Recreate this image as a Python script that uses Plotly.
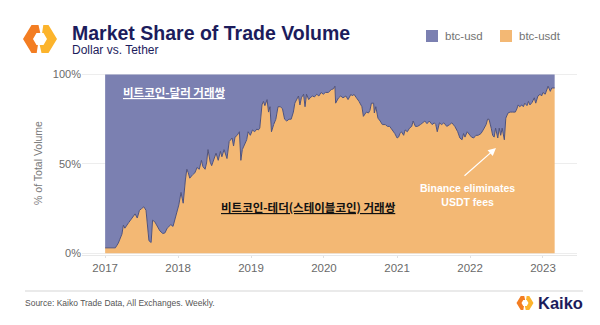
import plotly.graph_objects as go
import pandas as pd

# ---------------- data ----------------
period_decimal_year = [
    2017.00, 2017.14, 2017.18, 2017.23, 2017.25, 2017.27, 2017.32, 2017.35, 2017.38, 2017.41,
    2017.44, 2017.47, 2017.50, 2017.53, 2017.56, 2017.58, 2017.60, 2017.63, 2017.65, 2017.68,
    2017.71, 2017.75, 2017.79, 2017.82, 2017.85, 2017.88, 2017.90, 2017.93, 2017.96, 2017.99,
    2018.01, 2018.04, 2018.07, 2018.10, 2018.12, 2018.14, 2018.16, 2018.20, 2018.23, 2018.26,
    2018.29, 2018.32, 2018.34, 2018.37, 2018.39, 2018.41, 2018.44, 2018.46, 2018.49, 2018.52,
    2018.55, 2018.58, 2018.60, 2018.63, 2018.67, 2018.70, 2018.74, 2018.76, 2018.78, 2018.81,
    2018.84, 2018.86, 2018.88, 2018.91, 2018.94, 2018.96, 2018.99, 2019.02, 2019.05, 2019.08,
    2019.10, 2019.12, 2019.15, 2019.17, 2019.19, 2019.22, 2019.24, 2019.26, 2019.28, 2019.31,
    2019.34, 2019.37, 2019.40, 2019.43, 2019.46, 2019.49, 2019.52, 2019.55, 2019.58, 2019.60,
    2019.63, 2019.65, 2019.67, 2019.69, 2019.72, 2019.74, 2019.76, 2019.79, 2019.81, 2019.84,
    2019.87, 2019.90, 2019.93, 2019.96, 2019.99, 2020.02, 2020.06, 2020.10, 2020.13, 2020.15,
    2020.16, 2020.20, 2020.23, 2020.26, 2020.30, 2020.33, 2020.37, 2020.39, 2020.41, 2020.45,
    2020.48, 2020.52, 2020.54, 2020.58, 2020.61, 2020.63, 2020.65, 2020.68, 2020.69, 2020.71,
    2020.74, 2020.77, 2020.80, 2020.84, 2020.87, 2020.90, 2020.93, 2020.95, 2020.97, 2021.00,
    2021.02, 2021.04, 2021.06, 2021.09, 2021.11, 2021.14, 2021.17, 2021.20, 2021.22, 2021.25,
    2021.28, 2021.32, 2021.35, 2021.38, 2021.41, 2021.44, 2021.48, 2021.51, 2021.53, 2021.55,
    2021.58, 2021.61, 2021.64, 2021.68, 2021.72, 2021.75, 2021.79, 2021.83, 2021.86, 2021.89,
    2021.91, 2021.93, 2021.96, 2021.98, 2022.00, 2022.02, 2022.05, 2022.08, 2022.11, 2022.15,
    2022.18, 2022.22, 2022.24, 2022.26, 2022.29, 2022.31, 2022.33, 2022.35, 2022.38, 2022.40,
    2022.42, 2022.44, 2022.47, 2022.49, 2022.52, 2022.55, 2022.58, 2022.62, 2022.64, 2022.66,
    2022.68, 2022.71, 2022.73, 2022.75, 2022.78, 2022.80, 2022.82, 2022.85, 2022.88, 2022.90,
    2022.93, 2022.96, 2022.98, 2023.00, 2023.03, 2023.05, 2023.07, 2023.10, 2023.12, 2023.16,
]

btc_usdt_share = [
    3, 3, 5.6, 10.7, 15.7, 14, 17, 18.5, 20, 22,
    19.7, 24, 25, 26, 24, 15, 7, 6, 18.5, 17.6,
    15, 12.5, 11, 11.4, 14, 15, 16, 15, 20, 25,
    27, 34, 28, 41, 47, 45, 42, 44, 45, 48,
    47, 52, 48.5, 47, 50.5, 58, 51, 49, 53, 56,
    52, 57, 54, 58, 53, 62.5, 64.5, 60, 65, 66,
    68, 52, 58, 60.7, 63.5, 68, 66, 69, 68, 69.5,
    69, 70, 83, 85, 82.6, 86, 79, 82, 68, 72,
    75, 82, 82, 81, 75, 74, 75, 75, 79, 84,
    86, 88, 83, 87, 89, 82, 89, 86, 87, 88,
    87.5, 89, 88, 90, 89, 90, 90, 91.6, 92, 93.5,
    84, 87, 88, 87, 88, 86, 89, 88, 89, 87,
    85, 82, 76.6, 79, 78.5, 80, 84, 84, 78.5, 82,
    75.6, 74, 72, 72, 71, 71, 69.5, 68, 67, 64.5,
    65, 67, 68, 66, 69, 68, 70, 71, 74, 71,
    71, 72, 73, 74, 72.5, 74, 72, 73, 72, 68,
    73, 72, 73, 71, 72, 73, 71, 68, 64.5, 63.5,
    67, 65, 68, 67, 66, 65, 64.5, 66, 66, 67,
    69, 72, 75, 75, 70, 66, 65, 70, 64.5, 70,
    66, 70, 63.5, 75.6, 78.5, 79, 79, 79, 80.7, 83,
    82, 83, 82, 84, 82.6, 85, 83, 84.4, 87, 84,
    88, 89, 88, 90, 89, 91.6, 93.5, 90.6, 92.5, 92.5,
]

year_ticks = [2017, 2018, 2019, 2020, 2021, 2022, 2023]
year_tick_labels = ["2017", "2018", "2019", "2020", "2021", "2022", "2023"]
pct_ticks = [0, 50, 100]
pct_tick_labels = ["0%", "50%", "100%"]
series_names = ["btc-usd", "btc-usdt"]

# ---------------- styling ----------------
BLUE = "#7b80b1"
ORANGE = "#f3b874"
LINE = "#4f527c"
NAVY = "#1c1c5c"
GRAY = "#6a6a6a"
W, H = 600, 325
L, R, T, B = 82, 577, 71, 255  # plot area in pixels


def dec_to_date(y):
    yi = int(y)
    return pd.Timestamp(yi, 1, 1) + pd.Timedelta(days=(y - yi) * 365.25)


dates = [dec_to_date(v) for v in period_decimal_year]
btc_usd_share = [100 - v for v in btc_usdt_share]


def px(xp):
    return (xp - L) / (R - L)


def py(yp):
    return (B - yp) / (B - T)


fig = go.Figure()
fig.add_trace(go.Scatter(
    x=dates, y=btc_usdt_share, name=series_names[1], mode="lines",
    stackgroup="one", fillcolor=ORANGE, line=dict(color=LINE, width=1),
    showlegend=False, hoverinfo="skip"))
fig.add_trace(go.Scatter(
    x=dates, y=btc_usd_share, name=series_names[0], mode="lines",
    stackgroup="one", fillcolor=BLUE, line=dict(color=BLUE, width=0),
    showlegend=False, hoverinfo="skip"))

x_left = dec_to_date(2016.685)
x_right = dec_to_date(2023.466)

fig.update_layout(
    width=W, height=H,
    margin=dict(l=L, r=W - R, t=T, b=H - B),
    paper_bgcolor="white", plot_bgcolor="white",
    font=dict(family="Liberation Sans, Arial, sans-serif", color=GRAY),
    showlegend=False,
    xaxis=dict(
        type="date", range=[x_left, x_right],
        tickvals=[pd.Timestamp(y, 1, 1) for y in year_ticks],
        ticktext=year_tick_labels,
        showgrid=False, showline=True, linecolor="#e8e8e8", linewidth=1,
        ticks="outside", ticklen=2, tickcolor="#e0e0e0",
        tickfont=dict(size=11.5, color=GRAY), zeroline=False,
    ),
    yaxis=dict(
        range=[-1, 102], tickvals=pct_ticks, ticktext=pct_tick_labels,
        showgrid=True, gridcolor="#ededed", gridwidth=1, zeroline=False,
        showline=False, ticks="", tickfont=dict(size=11, color=GRAY),
        title=dict(text="% of Total Volume", font=dict(size=10.5, color="#777777"), standoff=8),
    ),
)

annotations = []
shapes = []

# title & subtitle
annotations.append(dict(xref="paper", yref="paper", x=px(70), y=py(33), xanchor="left", yanchor="middle",
                        text="<b>Market Share of Trade Volume</b>", showarrow=False,
                        font=dict(size=19.5, color=NAVY, family="Liberation Sans, Arial")))
annotations.append(dict(xref="paper", yref="paper", x=px(70), y=py(50), xanchor="left", yanchor="middle",
                        text="Dollar vs. Tether", showarrow=False,
                        font=dict(size=12, color=NAVY, family="Liberation Sans, Arial")))

# legend (manual)
for sx, col, name in [(426, BLUE, series_names[0]), (500, ORANGE, series_names[1])]:
    shapes.append(dict(type="rect", xref="paper", yref="paper",
                       x0=px(sx), x1=px(sx + 12), y0=py(42), y1=py(30),
                       fillcolor=col, line=dict(width=0)))
    annotations.append(dict(xref="paper", yref="paper", x=px(sx + 17), y=py(36), xanchor="left",
                            yanchor="middle", text=name, showarrow=False,
                            font=dict(size=11.5, color="#737373")))


# logos
def logo_paths(cx, cy, Rx, Hy, Rx2, Hy2, g):
    left = [(cx - g, cy - Hy), (cx - Rx / 2, cy - Hy), (cx - Rx, cy), (cx - Rx / 2, cy + Hy),
            (cx - 2.2 * g, cy + Hy), (cx - 1.4 * g, cy + Hy2), (cx - Rx2 / 2, cy + Hy2),
            (cx - Rx2, cy), (cx - Rx2 / 2, cy - Hy2), (cx + 0.2 * g, cy - Hy2)]
    right = [(2 * cx - a, 2 * cy - b) for a, b in left]

    def to_path(pts):
        return "M " + " L ".join(f"{px(a):.5f},{py(b):.5f}" for a, b in pts) + " Z"
    return to_path(left), to_path(right)


for (cx, cy, s) in [(40, 39, 1.0), (525, 303, 0.5)]:
    lp, rp = logo_paths(cx, cy, 17 * s, 14 * s, 7 * s, 6 * s, 1.5 * s)
    shapes.append(dict(type="path", xref="paper", yref="paper", path=lp,
                       fillcolor="#f37d22", line=dict(width=0)))
    shapes.append(dict(type="path", xref="paper", yref="paper", path=rp,
                       fillcolor="#fcb42c", line=dict(width=0)))

annotations.append(dict(xref="paper", yref="paper", x=px(536), y=py(303), xanchor="left", yanchor="middle",
                        text="<b>Kaiko</b>", showarrow=False,
                        font=dict(size=16.5, color=NAVY, family="Liberation Sans, Arial")))

# separator & source
shapes.append(dict(type="line", xref="paper", yref="paper", x0=px(25), x1=px(583), y0=py(291), y1=py(291),
                   line=dict(color="#d5d5d5", width=1)))
annotations.append(dict(xref="paper", yref="paper", x=px(23), y=py(303), xanchor="left", yanchor="middle",
                        text="Source: Kaiko Trade Data, All Exchanges. Weekly.", showarrow=False,
                        font=dict(size=8.5, color="#555555")))

# in-chart labels
annotations.append(dict(xref="paper", yref="paper", x=px(174), y=py(92), xanchor="center", yanchor="middle",
                        text="<b><u>비트코인-달러 거래쌍</u></b>", showarrow=False,
                        font=dict(size=11.5, color="white", family="Noto Sans CJK KR")))
annotations.append(dict(xref="paper", yref="paper", x=px(308), y=py(207), xanchor="center", yanchor="middle",
                        text="<b><u>비트코인-테더(스테이블코인) 거래쌍</u></b>", showarrow=False,
                        font=dict(size=11.5, color="#111111", family="Noto Sans CJK KR")))
annotations.append(dict(xref="paper", yref="paper", x=px(467), y=py(195), xanchor="center", yanchor="middle",
                        text="<b>Binance eliminates<br>USDT fees</b>", showarrow=False,
                        font=dict(size=10.5, color="white")))
annotations.append(dict(xref="paper", yref="paper", x=px(496), y=py(148), ax=-33, ay=29,
                        axref="pixel", ayref="pixel", text="", showarrow=True,
                        arrowhead=2, arrowsize=1.3, arrowwidth=1.2, arrowcolor="white"))

fig.update_layout(annotations=annotations, shapes=shapes)
fig.write_html("out.html")
